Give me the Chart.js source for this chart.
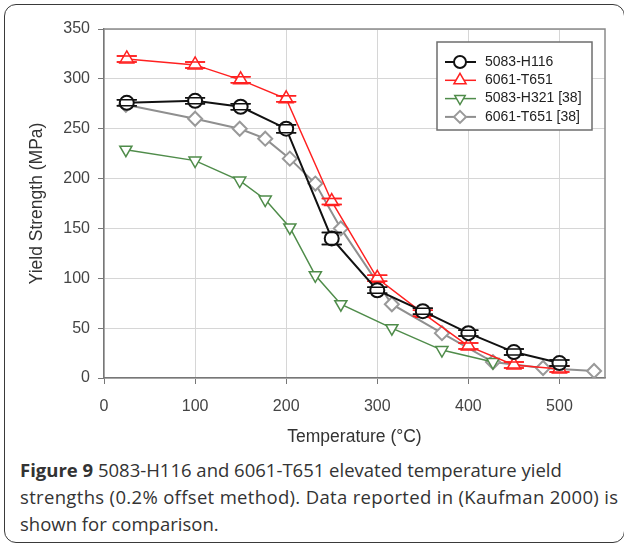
<!DOCTYPE html>
<html lang="en">
<head>
<meta charset="UTF-8">
<title>Figure 9 - Elevated temperature yield strengths</title>
<script src="https://cdn.jsdelivr.net/npm/chart.js@4.4.1/dist/chart.umd.min.js"></script>
<style>
    body {
        margin: 0;
        background: #fff;
        font-family: "Liberation Sans", Arial, sans-serif;
    }
    .frame {
        position: absolute;
        left: 4px;
        top: 4px;
        width: 621px;
        height: 539px;
        box-sizing: border-box;
        border: 1.5px solid #3a3a3a;
        border-radius: 12px;
    }
    #chartBox {
        position: absolute;
        left: 0;
        top: 0;
    }
    .caption {
        position: absolute;
        left: 20px;
        top: 456px;
        font-family: "Open Sans", sans-serif;
        font-size: 18.5px;
        line-height: 27px;
        color: #333;
        white-space: nowrap;
    }
    .caption .wide { letter-spacing: 0.33px; }
</style>
</head>
<body>
<div class="frame"></div>
<canvas id="chartBox" width="624" height="455"></canvas>
<div class="caption">
    <b>Figure 9</b> 5083-H116 and 6061-T651 elevated temperature yield<br>
    <span class="wide">strengths (0.2% offset method). Data reported in (Kaufman 2000) is</span><br>
    shown for comparison.
</div>

<script>
// temperatures (°C)
var tempTest = [25, 100, 150, 200, 250, 300, 350, 400, 450, 500];
var tempRef = [24, 100, 149, 177, 204, 232, 260, 316, 371, 427, 482, 538];

// yield strength (MPa) and error bar half-widths
var ys5083H116 = [276, 278, 272, 250, 140, 88, 67, 45, 26, 15];
var err5083H116 = [3, 3, 3, 4, 6, 3, 3, 3, 3, 3];
var ys6061T651 = [320, 314, 299, 280, 177, 100, 65, 32, 13, 9];
var err6061T651 = [3, 3, 3, 3, 3, 3, 3, 3, 3, 3];
var ys5083H321Ref = [229, 218, 198, 179, 151, 103, 74, 50, 28, 16];
var ys6061T651Ref = [274, 260, 250, 240, 220, 195, 150, 74, 45, 16, 10, 7];

var xTicks = [0, 100, 200, 300, 400, 500];
var yTicks = [0, 50, 100, 150, 200, 250, 300, 350];

function pairs(xs, ys) {
    var out = [];
    for (var i = 0; i < ys.length; i++) out.push({x: xs[i], y: ys[i]});
    return out;
}

// error bars: stems under the marker, caps drawn again on top
function drawErrors(chart, index, capsOnly) {
    var ds = chart.data.datasets[index];
    if (!ds.errors) return;
    var ctx = chart.ctx, sx = chart.scales.x, sy = chart.scales.y;
    ctx.save();
    ctx.strokeStyle = ds.borderColor;
    ctx.lineWidth = 1.5;
    ds.data.forEach(function(p, i) {
        var px = sx.getPixelForValue(p.x);
        var top = sy.getPixelForValue(p.y + ds.errors[i]);
        var bot = sy.getPixelForValue(p.y - ds.errors[i]);
        ctx.beginPath();
        if (!capsOnly) {
            ctx.moveTo(px, top);
            ctx.lineTo(px, bot);
        }
        ctx.moveTo(px - 10, top);
        ctx.lineTo(px + 10, top);
        ctx.moveTo(px - 10, bot);
        ctx.lineTo(px + 10, bot);
        ctx.stroke();
    });
    ctx.restore();
}

var errorBars = {
    id: 'errorBars',
    beforeDatasetDraw: function(chart, args) { drawErrors(chart, args.index, false); },
    afterDatasetDraw: function(chart, args) { drawErrors(chart, args.index, true); }
};

// top and right edges of the plot box
var plotBox = {
    id: 'plotBox',
    beforeDatasetsDraw: function(chart) {
        var a = chart.chartArea, ctx = chart.ctx;
        ctx.save();
        ctx.strokeStyle = '#8a8a8a';
        ctx.lineWidth = 1.5;
        ctx.beginPath();
        ctx.moveTo(a.left, a.top);
        ctx.lineTo(a.right, a.top);
        ctx.lineTo(a.right, a.bottom);
        ctx.stroke();
        ctx.restore();
    }
};

// boxed legend inside the plot, top right
var boxLegend = {
    id: 'boxLegend',
    afterDraw: function(chart) {
        var ctx = chart.ctx, a = chart.chartArea;
        var w = 155, h = 88;
        var x0 = a.right - 13 - w, y0 = a.top + 13;
        ctx.save();
        ctx.fillStyle = '#fff';
        ctx.strokeStyle = '#6e6e6e';
        ctx.lineWidth = 1.5;
        ctx.fillRect(x0, y0, w, h);
        ctx.strokeRect(x0, y0, w, h);
        ctx.font = '14px "Liberation Sans", Arial, sans-serif';
        ctx.textBaseline = 'middle';
        chart.data.datasets.forEach(function(ds, i) {
            var y = y0 + 20 + i * 18.3;
            ctx.strokeStyle = ds.borderColor;
            ctx.lineWidth = ds.borderWidth;
            ctx.beginPath();
            ctx.moveTo(x0 + 8, y);
            ctx.lineTo(x0 + 39, y);
            ctx.stroke();
            ctx.fillStyle = ds.pointBackgroundColor;
            ctx.strokeStyle = ds.pointBorderColor;
            ctx.lineWidth = ds.pointBorderWidth;
            Chart.helpers.drawPoint(ctx, {
                pointStyle: ds.pointStyle,
                rotation: ds.pointRotation || 0,
                radius: ds.pointRadius - 1,
                borderWidth: ds.pointBorderWidth
            }, x0 + 23, y);
            ctx.fillStyle = '#222';
            ctx.fillText(ds.label, x0 + 48, y);
        });
        ctx.restore();
    }
};

var ctx = document.getElementById('chartBox').getContext('2d');
var chart = new Chart(ctx, {
    type: 'line',
    data: {
        datasets: [{
            label: '5083-H116',
            data: pairs(tempTest, ys5083H116),
            errors: err5083H116,
            borderColor: '#111',
            borderWidth: 2,
            pointStyle: 'circle',
            pointRadius: 7,
            pointBorderWidth: 2,
            pointBorderColor: '#111',
            pointBackgroundColor: '#fff'
        }, {
            label: '6061-T651',
            data: pairs(tempTest, ys6061T651),
            errors: err6061T651,
            borderColor: '#ff2020',
            borderWidth: 1.5,
            pointStyle: 'triangle',
            pointRadius: 8,
            pointBorderWidth: 1.5,
            pointBorderColor: '#ff2020',
            pointBackgroundColor: '#fff'
        }, {
            label: '5083-H321 [38]',
            data: pairs(tempRef, ys5083H321Ref),
            borderColor: '#4f8c4a',
            borderWidth: 1.5,
            pointStyle: 'triangle',
            pointRotation: 180,
            pointRadius: 7,
            pointBorderWidth: 1.5,
            pointBorderColor: '#4f8c4a',
            pointBackgroundColor: '#fff'
        }, {
            label: '6061-T651 [38]',
            data: pairs(tempRef, ys6061T651Ref),
            borderColor: '#8f8f8f',
            borderWidth: 2,
            pointStyle: 'rectRot',
            pointRadius: 7,
            pointBorderWidth: 2,
            pointBorderColor: '#999',
            pointBackgroundColor: '#fff'
        }]
    },
    options: {
        responsive: false,
        animation: false,
        layout: { padding: { top: 29, right: 19, bottom: 0, left: 0 } },
        plugins: {
            legend: { display: false },
            tooltip: { enabled: false }
        },
        scales: {
            x: {
                type: 'linear',
                min: 0,
                max: 550,
                afterBuildTicks: function(s) { s.ticks = xTicks.map(function(v) { return {value: v}; }); },
                afterFit: function(s) { s.height = 77; },
                grid: { color: '#d6d6d6', tickColor: '#777', tickLength: 6 },
                border: { color: '#777', width: 1.5 },
                ticks: {
                    color: '#444',
                    padding: 13,
                    font: { family: '"Liberation Sans", Arial, sans-serif', size: 16 }
                },
                title: {
                    display: true,
                    text: 'Temperature (°C)',
                    color: '#333',
                    padding: { top: 0, bottom: 7.5 },
                    font: { family: '"Liberation Sans", Arial, sans-serif', size: 17.5 }
                }
            },
            y: {
                min: 0,
                max: 350,
                afterBuildTicks: function(s) { s.ticks = yTicks.map(function(v) { return {value: v}; }); },
                afterFit: function(s) { s.width = 104; },
                grid: { color: '#d6d6d6', tickColor: '#777', tickLength: 6 },
                border: { color: '#777', width: 1.5 },
                ticks: {
                    color: '#444',
                    padding: 8,
                    font: { family: '"Liberation Sans", Arial, sans-serif', size: 16 }
                },
                title: {
                    display: true,
                    text: 'Yield Strength (MPa)',
                    color: '#333',
                    padding: { top: 26.5, bottom: 0 },
                    font: { family: '"Liberation Sans", Arial, sans-serif', size: 17.5 }
                }
            }
        }
    },
    plugins: [plotBox, errorBars, boxLegend]
});
</script>
</body>
</html>
